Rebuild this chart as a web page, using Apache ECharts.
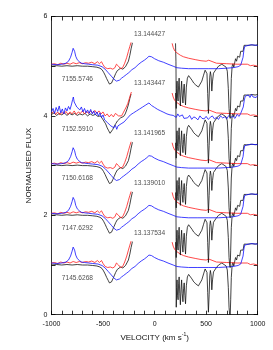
<!DOCTYPE html>
<html><head><meta charset="utf-8">
<script src="https://cdn.jsdelivr.net/npm/echarts@6/dist/echarts.min.js"></script>
<style>html,body{margin:0;padding:0;background:#fff}#c{width:273px;height:350px}</style>
</head><body><div id="c"></div>
<script>
// group offsets (normalised flux stacking) bottom -> top
const offsets = [1, 2, 3, 4, 5];
const dateLabels = ['7145.6268', '7147.6292', '7150.6168', '7152.5910', '7155.5746'];
const phaseLabels = ['13.137534', '13.139010', '13.141965', '13.143447', '13.144427'];
const xTicks = [-1000, -500, 0, 500, 1000];
const yTicks = [0, 2, 4, 6];

// profiles relative to group offset: [velocity, flux]
const blueProfile = [[-1000,0.04],[-950,0.03],[-900,0.04],[-860,0.06],[-835,0.10],[-815,0.18],[-800,0.28],[-790,0.36],[-784,0.37],[-776,0.30],[-765,0.20],[-750,0.13],[-730,0.09],[-710,0.06],[-680,0.05],[-640,0.04],[-600,0.03],[-550,0.02],[-510,-0.01],[-480,-0.06],[-450,-0.13],[-420,-0.20],[-395,-0.26],[-370,-0.30],[-355,-0.31],[-340,-0.28],[-320,-0.24],[-300,-0.21],[-275,-0.17],[-250,-0.13],[-220,-0.07],[-190,-0.03],[-160,0.03],[-130,0.08],[-100,0.12],[-75,0.16],[-55,0.20],[-45,0.22],[-30,0.19],[0,0.15],[40,0.11],[85,0.08],[130,0.04],[180,0.00],[215,-0.03],[260,-0.04],[330,-0.05],[420,-0.05],[520,-0.05],[620,-0.05],[700,-0.04],[760,-0.03],[810,-0.01],[835,0.02],[848,0.06],[858,0.18],[866,0.32],[874,0.40],[890,0.43],[930,0.43],[1000,0.42]];
const redLeftProfile = [[-1000,0.04],[-970,0.05],[-940,0.03],[-910,0.06],[-880,0.04],[-850,0.06],[-820,0.04],[-790,0.07],[-760,0.05],[-730,0.07],[-700,0.05],[-670,0.07],[-640,0.06],[-610,0.08],[-580,0.05],[-555,0.09],[-535,0.05],[-515,0.09],[-500,0.03],[-480,-0.03],[-455,-0.05],[-430,-0.04],[-405,-0.06],[-385,-0.03],[-370,0.04],[-360,0.07],[-350,0.00],[-330,-0.05],[-310,-0.03],[-290,0.06],[-270,0.18],[-254,0.30],[-240,0.40],[-228,0.48]];
const redRightProfile = [[170,0.46],[180,0.38],[195,0.31],[215,0.27],[250,0.22],[280,0.19],[330,0.16],[400,0.13],[450,0.11],[500,0.10],[515,0.13],[525,0.12],[540,0.08],[600,0.06],[700,0.05],[800,0.04],[900,0.04],[930,0.01],[960,0.02],[1000,0.00]];
const blackLeftProfile = [[-1000,0.0],[-950,0.01],[-900,0.0],[-850,0.01],[-800,0.0],[-750,0.01],[-700,0.0],[-650,0.0],[-600,-0.01],[-560,-0.02],[-530,-0.04],[-510,-0.07],[-495,-0.12],[-480,-0.18],[-465,-0.25],[-450,-0.31],[-438,-0.36],[-428,-0.37],[-418,-0.34],[-405,-0.28],[-392,-0.22],[-378,-0.15],[-362,-0.09],[-345,-0.06],[-330,-0.04],[-318,-0.03],[-308,-0.06],[-295,-0.04],[-282,-0.01],[-270,0.02],[-254,0.10],[-240,0.22],[-228,0.35],[-215,0.47]];
const blackRightProfile = [[203,0.46],[207,0.10],[210,-0.85],[214,-0.45],[218,-0.30],[223,-0.62],[228,-0.70],[233,-0.38],[238,-0.24],[244,-0.58],[250,-0.80],[256,-0.50],[262,-0.30],[268,-0.58],[275,-0.74],[281,-0.48],[287,-0.36],[294,-0.62],[300,-0.78],[308,-0.42],[318,-0.24],[330,-0.19],[345,-0.21],[362,-0.28],[380,-0.34],[400,-0.38],[425,-0.42],[440,-0.40],[458,-0.30],[475,-0.18],[490,-0.08],[500,-0.04],[508,-0.15],[515,-0.55],[522,-0.95],[529,-0.60],[535,-0.22],[541,-0.11],[548,-0.20],[555,-0.50],[562,-0.30],[571,-0.14],[585,-0.10],[597,-0.06],[610,-0.08],[620,0.00],[636,0.02],[652,0.04],[670,0.01],[694,-0.02],[705,-0.10],[715,-0.45],[722,-0.85],[728,-1.00],[733,-1.05],[738,-0.70],[744,-0.25],[752,0.00],[760,0.05],[768,-0.02],[775,0.02],[785,0.15],[795,0.10],[805,0.20],[815,0.22],[825,0.18],[835,0.30],[848,0.34],[858,0.30],[868,0.42],[880,0.44],[892,0.42],[905,0.45],[918,0.42],[930,0.45],[945,0.43],[960,0.45],[975,0.42],[990,0.45],[1000,0.43]];

// noisy group (7152.5910), absolute flux
const blue4 = [[-1000,4.08],[-985,4.15],[-970,4.05],[-955,4.17],[-940,4.09],[-925,4.20],[-910,4.06],[-895,4.14],[-880,4.04],[-865,4.16],[-850,4.10],[-835,4.19],[-820,4.13],[-805,4.24],[-795,4.33],[-788,4.38],[-780,4.28],[-770,4.30],[-755,4.18],[-740,4.22],[-725,4.12],[-710,4.18],[-695,4.08],[-680,4.15],[-665,4.06],[-650,4.12],[-635,4.05],[-620,4.13],[-605,4.04],[-590,4.10],[-575,4.02],[-560,4.08],[-545,4.00],[-530,4.06],[-515,3.97],[-500,4.02],[-485,3.92],[-470,3.96],[-455,3.86],[-440,3.90],[-425,3.80],[-410,3.84],[-395,3.76],[-380,3.81],[-367,3.73],[-355,3.80],[-340,3.76],[-325,3.84],[-310,3.80],[-295,3.88],[-280,3.86],[-265,3.95],[-250,3.93],[-235,4.02],[-220,3.99],[-205,4.06],[-190,4.04],[-175,4.10],[-160,4.08],[-145,4.14],[-130,4.12],[-115,4.18],[-100,4.16],[-85,4.22],[-70,4.20],[-55,4.26],[-44,4.28],[-30,4.21],[-15,4.24],[0,4.17],[15,4.20],[30,4.13],[45,4.16],[60,4.10],[75,4.14],[90,4.07],[105,4.11],[120,4.04],[135,4.08],[150,4.02],[165,4.06],[180,4.01],[195,4.03],[210,3.97],[225,4.04],[240,3.99],[255,3.98],[270,4.02],[285,3.95],[300,3.99],[320,3.96],[340,4.01],[360,3.93],[380,3.98],[400,3.96],[420,3.92],[440,4.00],[460,3.95],[480,3.94],[500,3.99],[520,3.93],[540,3.97],[560,4.00],[580,3.94],[600,3.97],[620,3.93],[640,4.00],[660,3.96],[680,3.98],[700,3.94],[720,4.01],[740,3.97],[760,3.99],[780,3.95],[800,4.03],[820,3.99],[835,4.05],[850,4.05],[860,4.18],[870,4.32],[880,4.40],[895,4.36],[910,4.42],[925,4.37],[940,4.43],[955,4.38],[970,4.42],[985,4.37],[1000,4.41]];
const redLeft4 = [[-1000,4.05],[-980,4.09],[-960,4.03],[-940,4.08],[-920,4.02],[-900,4.07],[-880,4.04],[-860,4.09],[-840,4.03],[-820,4.08],[-800,4.04],[-780,4.10],[-760,4.03],[-740,4.08],[-720,4.05],[-700,4.10],[-680,4.04],[-660,4.09],[-640,4.05],[-620,4.10],[-600,4.06],[-580,4.11],[-560,4.05],[-540,4.10],[-520,4.04],[-500,4.08],[-480,4.00],[-460,4.04],[-440,3.98],[-420,4.03],[-400,3.98],[-380,4.05],[-365,4.08],[-350,4.00],[-335,4.04],[-320,4.00],[-305,4.06],[-290,4.10],[-275,4.18],[-260,4.25],[-245,4.35],[-235,4.42],[-225,4.48]];
const blackLeft4 = [[-1000,4.03],[-975,4.06],[-950,4.01],[-925,4.05],[-900,4.02],[-875,4.06],[-850,4.01],[-825,4.05],[-800,4.02],[-775,4.05],[-750,4.01],[-725,4.04],[-700,4.02],[-675,4.05],[-650,4.00],[-625,4.04],[-600,4.01],[-575,4.03],[-550,3.99],[-525,4.00],[-505,3.94],[-490,3.90],[-475,3.84],[-460,3.76],[-445,3.70],[-432,3.65],[-420,3.69],[-405,3.73],[-390,3.80],[-375,3.85],[-360,3.90],[-345,3.93],[-330,3.96],[-315,3.94],[-300,3.99],[-285,4.04],[-270,4.12],[-255,4.22],[-240,4.35],[-228,4.44]];

const BLACK = '#111111', RED = '#ff1a1a', BLUE = '#1010ff';
const FONT = 'Liberation Sans, Arial, sans-serif';

function shift(arr, o) { return arr.map(p => [p[0], p[1] + o]); }
function line(data, color) {
  return { type: 'line', data: data, symbol: 'none', silent: true, animation: false,
    lineStyle: { color: color, width: 0.8 }, xAxisIndex: 0, yAxisIndex: 0, z: 2 };
}

const series = [];
offsets.forEach((o, i) => {
  const noisy = i === 3;
  series.push(line(noisy ? blackLeft4 : shift(blackLeftProfile, o), BLACK));
  series.push(line(shift(blackRightProfile, o), BLACK));
  series.push(line(noisy ? redLeft4 : shift(redLeftProfile, o), RED));
  series.push(line(shift(redRightProfile, o), RED));
  series.push(line(noisy ? blue4 : shift(blueProfile, o), BLUE));
});

const labelData = [];
offsets.forEach((o, i) => {
  labelData.push({ value: [-900, o - 0.26], name: dateLabels[i] });
  labelData.push({ value: [-200, o + 0.65], name: phaseLabels[i] });
});
series.push({
  type: 'scatter', data: labelData, symbolSize: 0, silent: true, animation: false, z: 5,
  label: { show: true, position: 'inside', align: 'left', verticalAlign: 'middle',
    formatter: p => p.name, color: '#222', fontSize: 6.6, fontFamily: FONT }
});

function axisCommon() {
  return {
    axisLine: { show: true, onZero: false, lineStyle: { color: '#000', width: 0.8 } },
    axisTick: { show: true, inside: true, length: 4, lineStyle: { color: '#000', width: 0.8 } },
    splitLine: { show: false }
  };
}

const chart = echarts.init(document.getElementById('c'), null, { renderer: 'canvas' });
chart.setOption({
  backgroundColor: '#fff',
  animation: false,
  grid: { left: 51.5, right: 15.3, top: 16.5, bottom: 35.3, containLabel: false },
  xAxis: [
    Object.assign({ type: 'value', position: 'bottom', min: -1000, max: 1000, interval: 100,
      axisLabel: { show: true, margin: 6, color: '#111', fontSize: 7, fontFamily: FONT,
        formatter: v => xTicks.indexOf(v) >= 0 ? String(v) : '' },
      name: '{a|VELOCITY (km s}{b|-1}{a|)}', nameLocation: 'middle', nameGap: 17,
      nameTextStyle: { rich: { a: { fontSize: 8, fontFamily: FONT, color: '#111' },
        b: { fontSize: 5, fontFamily: FONT, color: '#111', verticalAlign: 'top', padding: [0, 0, 5, 0] } } }
    }, axisCommon()),
    Object.assign({ type: 'value', position: 'top', min: -1000, max: 1000, interval: 100,
      axisLabel: { show: false } }, axisCommon())
  ],
  yAxis: [
    Object.assign({ type: 'value', position: 'left', min: 0, max: 6, interval: 1,
      axisLabel: { show: true, margin: 4, color: '#111', fontSize: 7, fontFamily: FONT,
        formatter: v => yTicks.indexOf(v) >= 0 ? String(v) : '' },
      name: 'NORMALISED FLUX', nameLocation: 'middle', nameGap: 14, nameRotate: 90,
      nameTextStyle: { fontSize: 8, fontFamily: FONT, color: '#111' }
    }, axisCommon()),
    Object.assign({ type: 'value', position: 'right', min: 0, max: 6, interval: 1,
      axisLabel: { show: false } }, axisCommon())
  ],
  series: series
});
</script>
</body></html>
